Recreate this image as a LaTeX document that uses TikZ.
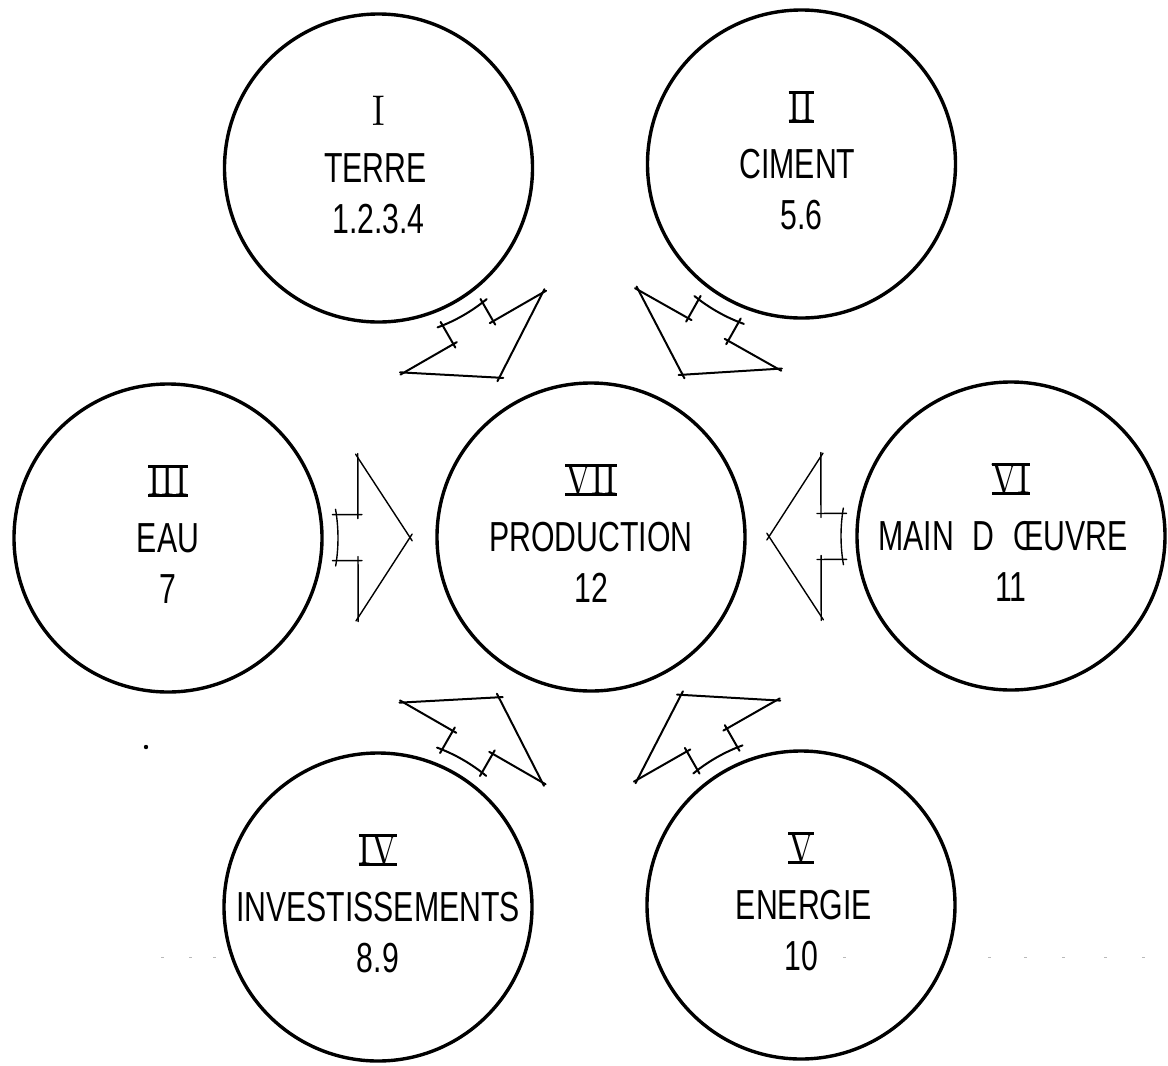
\documentclass[tikz,border=0pt]{standalone}
\usepackage{fontspec}
\setmainfont{Liberation Sans}[FakeStretch=0.72]
\newfontfamily\romfont{lmroman10-regular.otf}[FakeStretch=0.8]
\newsavebox\rombox
\newcommand\rbar[1]{\sbox\rombox{#1}\rlap{\rule[-1.4pt]{\wd\rombox}{2.8pt}}\rlap{\rule[\dimexpr\ht\rombox-1.4pt\relax]{\wd\rombox}{2.8pt}}\usebox\rombox}
\tikzset{
  planet/.style={circle, draw, line width=3.4pt, minimum size=308pt, inner sep=0pt},
  numtext/.style={inner sep=0pt, font=\romfont\fontsize{43}{43}\selectfont},
  titletext/.style={inner sep=0pt, font=\fontsize{42}{42}\selectfont},
  arrowline/.style={line cap=round, shorten <=-4pt, shorten >=-4pt},
  arcline/.style={line cap=round},
  specks/.style={gray!55, line width=1pt}
}
\newcommand\planetnode[7]{%
  \node[planet] (#1) at (#2,#3) {};
  \node[numtext] (#1-num) at ([yshift=57pt]#1.center) {#4};
  \node[titletext] (#1-title) at ([xshift=#7pt]#1.center) {#5};
  \node[titletext] (#1-val) at ([yshift=-51pt]#1.center) {#6};
}
\newcommand\flowarrow[3]{%
  \pgfmathanglebetweenpoints{\pgfpointanchor{#1}{center}}{\pgfpointanchor{#2}{center}}%
  \edef\flowangle{\pgfmathresult}%
  \begin{scope}[shift={(#1.center)}, rotate=\flowangle, line width=#3]
    \coordinate (#1-b1) at (190,80);
    \coordinate (#1-tip) at (242,0);
    \coordinate (#1-b2) at (190,-80);
    \coordinate (#1-s2) at (190,-23);
    \coordinate (#1-a2) at (-7.78:170);
    \coordinate (#1-a1) at (7.78:170);
    \coordinate (#1-s1) at (190,23);
    \draw[arrowline] (#1-b1) -- (#1-tip);
    \draw[arrowline] (#1-tip) -- (#1-b2);
    \draw[arrowline] (#1-b2) -- (#1-s2);
    \draw[arrowline] (#1-s2) -- (#1-a2);
    \draw[arcline] (-9.6:170) arc[start angle=-9.6, end angle=9.6, radius=170];
    \draw[arrowline] (#1-a1) -- (#1-s1);
    \draw[arrowline] (#1-s1) -- (#1-b1);
  \end{scope}}
\begin{document}
\begin{tikzpicture}[x=1pt,y=1pt]
  \fill[white] (0,0) rectangle (1168,-1066);
  \useasboundingbox (0,0) rectangle (1168,-1066);
  \planetnode{I}{378.5}{-168}{I}{TERRE}{1.2.3.4}{-3}
  \planetnode{II}{801.5}{-164}{\rbar{II}}{CIMENT}{5.6}{-4}
  \planetnode{III}{168}{-538}{\rbar{III}}{EAU}{7}{0}
  \planetnode{VII}{591}{-537}{\rbar{VII}}{PRODUCTION}{12}{0}
  \planetnode{VI}{1011}{-536}{\rbar{VI}}{MAIN\hspace{0.45em}D\hspace{0.45em}ŒUVRE}{11}{-8}
  \planetnode{IV}{378}{-907}{\rbar{IV}}{INVESTISSEMENTS}{8.9}{0}
  \planetnode{V}{801}{-905}{\rbar{V}}{ENERGIE}{10}{3}
  \flowarrow{I}{VII}{2pt}
  \flowarrow{II}{VII}{2pt}
  \flowarrow{III}{VII}{1.4pt}
  \flowarrow{VI}{VII}{1.4pt}
  \flowarrow{IV}{VII}{2pt}
  \flowarrow{V}{VII}{2pt}
  \fill (146,-747) circle (2.2pt);
  \foreach \sx in {161,189,213,843,988,1024,1062,1104,1142}
    \draw[specks] (\sx,-957) -- ++(3,0);
\end{tikzpicture}
\end{document}
